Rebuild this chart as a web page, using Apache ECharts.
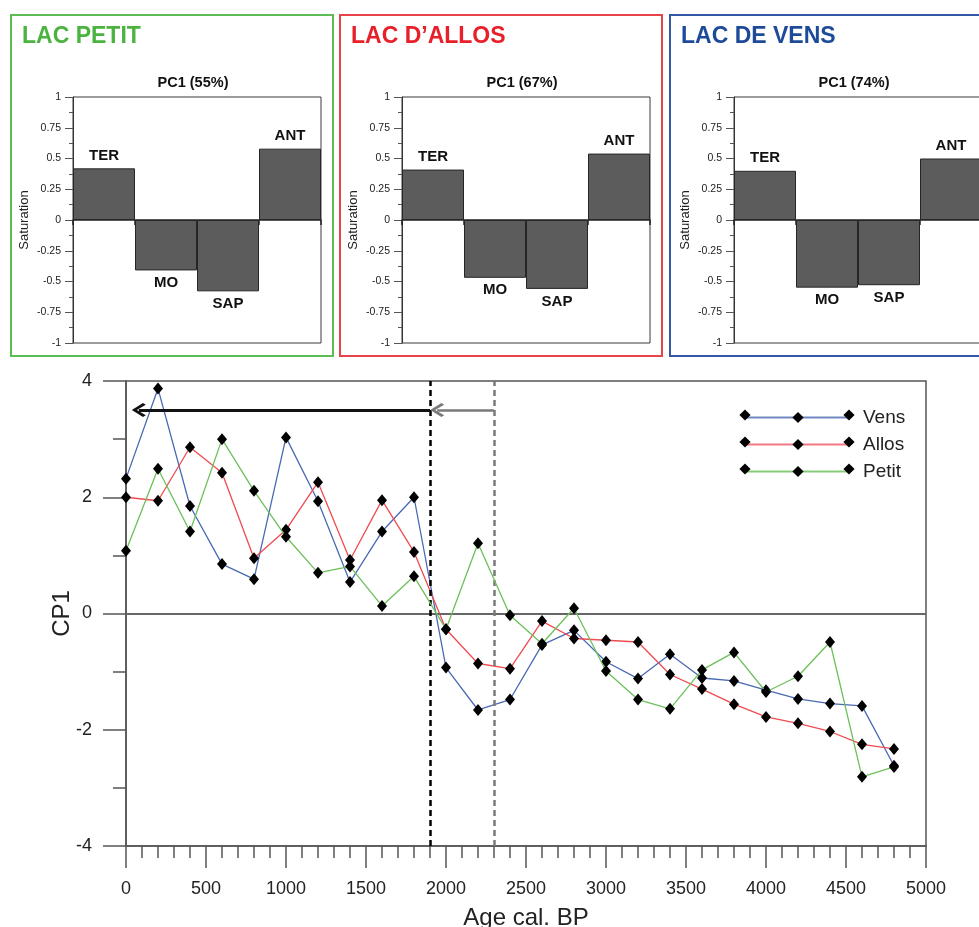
<!DOCTYPE html>
<html>
<head>
<meta charset="utf-8">
<script src="https://cdn.jsdelivr.net/npm/echarts@6/dist/echarts.min.js"></script>
<style>html,body{margin:0;padding:0;background:#fff}#c{width:979px;height:927px}</style>
</head>
<body>
<div id="c"></div>
<script>
// ---- data ----
var loadingCategories = ['TER', 'MO', 'SAP', 'ANT'];
var petitLoadings = [0.42, -0.41, -0.58, 0.58];
var allosLoadings = [0.41, -0.47, -0.56, 0.54];
var vensLoadings = [0.40, -0.55, -0.53, 0.50];
var panelTitles = ['LAC PETIT', 'LAC D\u2019ALLOS', 'LAC DE VENS'];
var panelSubtitles = ['PC1 (55%)', 'PC1 (67%)', 'PC1 (74%)'];

var ages = [0, 200, 400, 600, 800, 1000, 1200, 1400, 1600, 1800, 2000, 2200, 2400,
            2600, 2800, 3000, 3200, 3400, 3600, 3800, 4000, 4200, 4400, 4600, 4800];
var vens = [2.32, 3.87, 1.85, 0.85, 0.59, 3.03, 1.93, 0.54, 1.41, 2.00, -0.93, -1.66, -1.48,
            -0.54, -0.29, -0.83, -1.12, -0.70, -1.11, -1.16, -1.32, -1.47, -1.55, -1.59, -2.62];
var allos = [2.00, 1.94, 2.86, 2.42, 0.95, 1.44, 2.26, 0.92, 1.95, 1.06, -0.27, -0.86, -0.95,
             -0.13, -0.43, -0.46, -0.49, -1.05, -1.30, -1.56, -1.78, -1.89, -2.03, -2.25, -2.33];
var petit = [1.08, 2.49, 1.41, 3.00, 2.11, 1.32, 0.70, 0.81, 0.13, 0.64, -0.27, 1.21, -0.03,
             -0.52, 0.09, -0.99, -1.48, -1.64, -0.97, -0.67, -1.35, -1.08, -0.49, -2.81, -2.64];
var seriesNames = ['Vens', 'Allos', 'Petit'];
var dashedAges = [1900, 2300];
var arrowLevel = 3.5;
var arrowEnd = 80;

// ---- style ----
var FONT = '"Liberation Sans", Arial, sans-serif';
var panelColors = ['#4cb340', '#e8202a', '#1e4a9a'];
var panelBorders = ['#5cbd55', '#e8434b', '#3558a6'];
var lineColors = ['#4a69b3', '#ef4b50', '#6cc05a'];
var legendLineColors = ['#7088c0', '#f27a86', '#86cc78'];
var panelLeft = [73, 402, 734];
var panelBox = [11, 340, 670];

function zip(xs, ys) { return xs.map(function (x, i) { return [x, ys[i]]; }); }

var chart = echarts.init(document.getElementById('c'), null, {renderer: 'canvas'});

var grids = [], xAxes = [], yAxes = [], series = [], titles = [], graphics = [];
var loadings = [petitLoadings, allosLoadings, vensLoadings];

for (var p = 0; p < 3; p++) {
  grids.push({left: panelLeft[p], top: 97, width: 248, height: 246, show: true,
              outerBoundsMode: 'none',
              borderColor: '#3a3a3a', borderWidth: 1, backgroundColor: 'transparent'});
  xAxes.push({type: 'category', gridIndex: p, data: loadingCategories,
    axisLine: {onZero: true, lineStyle: {color: '#222', width: 1.5}},
    axisTick: {show: true, length: 5, lineStyle: {color: '#222', width: 1.5}},
    axisLabel: {show: false}, splitLine: {show: false}});
  yAxes.push({type: 'value', gridIndex: p, min: -1, max: 1, interval: 0.25,
    name: 'Saturation', nameLocation: 'middle', nameRotate: 90, nameGap: 42, nameMoveOverlap: false,
    nameTextStyle: {fontFamily: FONT, fontSize: 13, color: '#222'},
    axisLine: {show: true, lineStyle: {color: '#333', width: 1}},
    axisTick: {show: true, length: 8, lineStyle: {color: '#555'}},
    minorTick: {show: true, splitNumber: 2, length: 4, lineStyle: {color: '#555'}},
    axisLabel: {fontFamily: FONT, fontSize: 10.5, color: '#222', margin: 12},
    splitLine: {show: false}});
  series.push({type: 'bar', xAxisIndex: p, yAxisIndex: p, barCategoryGap: '0%',
    itemStyle: {color: '#5c5c5c', borderColor: '#262626', borderWidth: 1},
    label: {show: true, formatter: '{b}', fontFamily: FONT, fontSize: 15, fontWeight: 'bold', color: '#111', distance: 5},
    data: loadings[p].map(function (v) {
      return {value: v, label: {position: v >= 0 ? 'top' : 'bottom'}};
    }),
    silent: true, animation: false});
  titles.push({text: panelTitles[p], left: panelBox[p] + 11, top: 25, padding: 0,
    textStyle: {fontFamily: FONT, fontSize: 23, fontWeight: 'bold', color: panelColors[p]}});
  titles.push({text: panelSubtitles[p], left: panelLeft[p] + 120, top: 75, textAlign: 'center', padding: 0,
    textStyle: {fontFamily: FONT, fontSize: 14.5, fontWeight: 'bold', color: '#111'}});
  graphics.push({type: 'rect', shape: {x: panelBox[p], y: 15, width: 322, height: 341},
    style: {fill: 'none', stroke: panelBorders[p], lineWidth: 2}, silent: true});
}

// main chart
grids.push({left: 126, top: 381, width: 800, height: 465, show: true, outerBoundsMode: 'none',
            borderColor: '#555', borderWidth: 1.5, backgroundColor: 'transparent'});
xAxes.push({type: 'value', gridIndex: 3, min: 0, max: 5000, interval: 500,
  name: 'Age cal. BP', nameLocation: 'middle', nameGap: 60, nameMoveOverlap: false,
  nameTextStyle: {fontFamily: FONT, fontSize: 24, color: '#222'},
  axisLine: {show: true, onZero: false, lineStyle: {color: '#555', width: 1.5}},
  axisTick: {show: true, length: 22, lineStyle: {color: '#555', width: 1.5}},
  minorTick: {show: true, splitNumber: 5, length: 12, lineStyle: {color: '#555', width: 1.5}},
  axisLabel: {fontFamily: FONT, fontSize: 18, color: '#222', margin: 34,
              formatter: function (v) { return String(v); }},
  splitLine: {show: false}});
yAxes.push({type: 'value', gridIndex: 3, min: -4, max: 4, interval: 2,
  name: 'CP1', nameLocation: 'middle', nameRotate: 90, nameGap: 52, nameMoveOverlap: false,
  nameTextStyle: {fontFamily: FONT, fontSize: 24, color: '#222'},
  axisLine: {show: true, onZero: false, lineStyle: {color: '#555', width: 1.5}},
  axisTick: {show: true, length: 23, lineStyle: {color: '#555', width: 1.5}},
  minorTick: {show: true, splitNumber: 2, length: 13, lineStyle: {color: '#555', width: 1.5}},
  axisLabel: {fontFamily: FONT, fontSize: 18, color: '#222', margin: 34,
              formatter: function (v) { return String(v); }},
  splitLine: {show: false}});

var chevron = 'path://M0,0 L10,8 L7.5,10 L0,3.6 L-7.5,10 L-10,8 Z';
var lineData = [vens, allos, petit];
for (var s = 0; s < 3; s++) {
  var ser = {type: 'line', name: seriesNames[s], xAxisIndex: 3, yAxisIndex: 3,
    data: zip(ages, lineData[s]), symbol: 'diamond', symbolSize: [10, 12], showSymbol: true,
    itemStyle: {color: '#000'}, lineStyle: {color: lineColors[s], width: 1.3},
    z: 3 + s, animation: false, silent: true};
  if (s === 0) {
    ser.markLine = {silent: true, symbol: ['none', 'none'], symbolSize: 14, label: {show: false}, animation: false,
      data: [
        {yAxis: 0, lineStyle: {color: '#666', width: 2, type: 'solid'}},
        {xAxis: dashedAges[0], lineStyle: {color: '#000', width: 2.5, type: [6, 4]}},
        {xAxis: dashedAges[1], lineStyle: {color: '#7a7a7a', width: 2.5, type: [6, 4]}},
        [{coord: [dashedAges[0], arrowLevel], symbol: 'none', lineStyle: {color: '#111', width: 3, type: 'solid'}},
         {coord: [arrowEnd, arrowLevel], symbol: chevron, lineStyle: {color: '#111', width: 3, type: 'solid'}}],
        [{coord: [dashedAges[1], arrowLevel], symbol: 'none', lineStyle: {color: '#7a7a7a', width: 2.5, type: 'solid'}},
         {coord: [dashedAges[0] + 45, arrowLevel], symbol: chevron, lineStyle: {color: '#7a7a7a', width: 2.5, type: 'solid'}}]
      ]};
  }
  series.push(ser);
}

var legendY = [415, 442, 469];
var legends = [];
for (var l = 0; l < 3; l++) {
  legends.push({data: [seriesNames[l]], left: 745, top: legendY[l] - 7, itemWidth: 104, itemHeight: 14,
    orient: 'vertical', padding: 0, selectedMode: false,
    lineStyle: {color: legendLineColors[l], width: 2},
    textStyle: {fontFamily: FONT, fontSize: 19, color: '#222', lineHeight: 14, padding: [0, 0, 0, 8]}});
  [745, 849].forEach(function (cx) {
    var cy = legendY[l];
    graphics.push({type: 'polygon', shape: {points: [[cx, cy - 5.6], [cx + 5.6, cy], [cx, cy + 5.6], [cx - 5.6, cy]]},
      style: {fill: '#000'}, z: 100, silent: true});
  });
}

chart.setOption({
  animation: false,
  textStyle: {fontFamily: FONT},
  title: titles,
  grid: grids,
  xAxis: xAxes,
  yAxis: yAxes,
  legend: legends,
  series: series,
  graphic: graphics
});
</script>
</body>
</html>
